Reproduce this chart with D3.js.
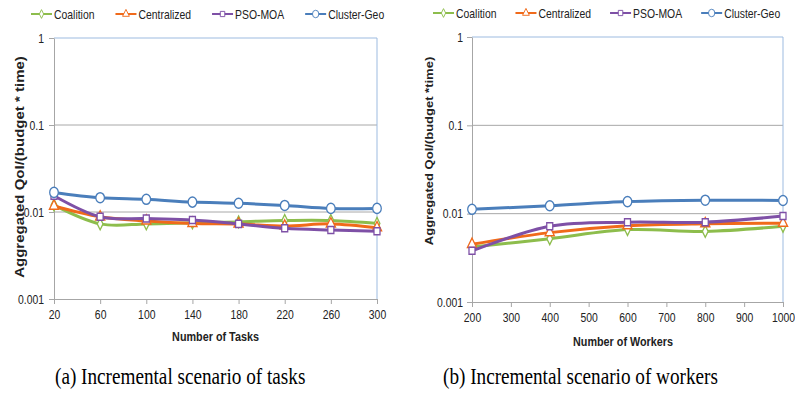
<!DOCTYPE html>
<html lang="en">
	<head>
		<meta charset="utf-8">
		<title>QoI vs tasks / workers</title>
		<script src="https://d3js.org/d3.v7.min.js"></script>
		<style type="text/css">
			body { margin: 0; background: #fff; }
			text { font-family: "Liberation Sans", Arial, sans-serif; }
		</style>
	</head>
	<body>
		<script type="text/javascript">

			//Width and height
			var w = 795;
			var h = 401;
			var sx = 0.8; // the figure is squeezed horizontally

			// series
			var seriesNames = ["Coalition", "Centralized", "PSO-MOA", "Cluster-Geo"];
			var seriesColors = ["#8dbd4c", "#f06a1a", "#7e50a6", "#4a7ebb"];
			var seriesSymbols = [d3.symbolDiamond, d3.symbolTriangle, d3.symbolSquare, d3.symbolCircle];
			var symbolSizes = [40, 50, 50, 80];

			// (a) tasks
			var tasks = [20, 60, 100, 140, 180, 220, 260, 300];
			var taskTicks = [20, 60, 100, 140, 180, 220, 260, 300];
			var tasksCoalition   = [0.0120, 0.0073, 0.0073, 0.0075, 0.0077, 0.0080, 0.0080, 0.0074];
			var tasksCentralized = [0.0117, 0.0088, 0.0079, 0.0074, 0.0073, 0.0069, 0.0073, 0.0066];
			var tasksPso         = [0.0154, 0.0088, 0.0084, 0.0081, 0.0073, 0.0065, 0.0062, 0.0060];
			var tasksCluster     = [0.0168, 0.0146, 0.0140, 0.0130, 0.0126, 0.0119, 0.0110, 0.0110];

			// (b) workers
			var workers = [200, 400, 600, 800, 1000];
			var workerTicks = [200, 300, 400, 500, 600, 700, 800, 900, 1000];
			var workersCoalition   = [0.0042, 0.0052, 0.0066, 0.0063, 0.0072];
			var workersCentralized = [0.0045, 0.0061, 0.0073, 0.0077, 0.0078];
			var workersPso         = [0.0038, 0.0072, 0.0080, 0.0080, 0.0094];
			var workersCluster     = [0.0112, 0.0123, 0.0137, 0.0142, 0.0141];

			var yTicks = [0.001, 0.01, 0.1, 1];

			//Create SVG element
			var svg = d3.select("body")
						.append("svg")
						.attr("width", w)
						.attr("height", h);

			function squeezeText(sel, x, y) {
				sel.attr("x", 0).attr("y", 0)
				   .attr("transform", "translate(" + x + "," + y + ") scale(" + sx + ",1)");
			}

			function drawPanel(p) {
				var g = svg.append("g");
				var x = d3.scaleLinear().domain([p.ticks[0], p.ticks[p.ticks.length - 1]]).range([p.left, p.right]);
				var y = d3.scaleLog().domain([0.001, 1]).range([p.bottom, p.top]);

				// gridlines
				g.selectAll("line.grid")
				 .data([0.01, 0.1])
				 .enter()
				 .append("line")
				 .attr("x1", p.left).attr("x2", p.right)
				 .attr("y1", function(d) { return y(d); })
				 .attr("y2", function(d) { return y(d); })
				 .attr("stroke", "#a8a8a8")
				 .attr("stroke-width", 1);

				// top and right border
				g.append("path")
				 .attr("d", "M" + p.left + "," + y(1) + "H" + p.right + "V" + p.bottom)
				 .attr("fill", "none")
				 .attr("stroke", "#9dbbe0")
				 .attr("stroke-width", 1);

				// axes
				var ya = g.append("g")
						  .attr("transform", "translate(" + p.left + ",0)")
						  .call(d3.axisLeft(y).tickValues(yTicks).tickFormat(d3.format("~g")).tickSize(5).tickSizeOuter(0));
				ya.selectAll("text")
				  .attr("x", -p.yPad / sx)
				  .attr("transform", "scale(" + sx + ",1)");

				var xa = g.append("g")
						  .attr("transform", "translate(0," + p.bottom + ")")
						  .call(d3.axisBottom(x).tickValues(p.ticks).tickFormat(d3.format("d")).tickSize(5).tickSizeOuter(0).tickPadding(6));
				xa.selectAll("text").attr("transform", "scale(" + sx + ",1)");

				g.selectAll(".domain, .tick line").attr("stroke", "#a6a6a6");
				g.selectAll(".tick text")
				 .attr("fill", "#222")
				 .style("font-size", "13px")
				 .style("font-family", "'Liberation Sans', Arial, sans-serif");

				// axis titles
				g.append("text")
				 .text(p.xTitle)
				 .attr("text-anchor", "middle")
				 .attr("font-weight", "bold")
				 .attr("font-size", 13.5)
				 .attr("fill", "#222")
				 .call(squeezeText, p.xTitleX, p.xTitleY);

				g.append("text")
				 .text(p.yTitle)
				 .attr("text-anchor", "middle")
				 .attr("dominant-baseline", "central")
				 .attr("font-weight", "bold")
				 .attr("font-size", p.yTitleSize)
				 .attr("fill", "#222")
				 .attr("transform", "translate(" + p.yTitleX + "," + p.yTitleY + ") scale(" + sx + ",1) rotate(-90)");

				// lines
				var line = d3.line()
							 .x(function(d) { return x(d[0]); })
							 .y(function(d) { return y(d[1]); })
							 .curve(d3.curveCatmullRom.alpha(0));

				p.series.forEach(function(vals, i) {
					var pts = p.xs.map(function(v, j) { return [v, vals[j]]; });
					g.append("path")
					 .datum(pts)
					 .attr("d", line)
					 .attr("fill", "none")
					 .attr("stroke", seriesColors[i])
					 .attr("stroke-width", 3)
					 .attr("stroke-linejoin", "round");
					g.selectAll("path.m" + i)
					 .data(pts)
					 .enter()
					 .append("path")
					 .attr("class", "m" + i)
					 .attr("d", d3.symbol().type(seriesSymbols[i]).size(symbolSizes[i]))
					 .attr("transform", function(d) { return "translate(" + x(d[0]) + "," + y(d[1]) + ") scale(0.85,1)"; })
					 .attr("fill", "#fff")
					 .attr("stroke", seriesColors[i])
					 .attr("stroke-width", 1.5);
				});

				// legend
				var lx = p.legendX;
				seriesNames.forEach(function(name, i) {
					var lg = g.append("g");
					lg.append("line")
					  .attr("x1", lx).attr("x2", lx + 21)
					  .attr("y1", p.legendY).attr("y2", p.legendY)
					  .attr("stroke", seriesColors[i])
					  .attr("stroke-width", 2);
					lg.append("path")
					  .attr("d", d3.symbol().type(seriesSymbols[i]).size(symbolSizes[i] * 0.55))
					  .attr("transform", "translate(" + (lx + 10.5) + "," + p.legendY + ") scale(0.85,1)")
					  .attr("fill", "#fff")
					  .attr("stroke", seriesColors[i])
					  .attr("stroke-width", 1);
					var t = lg.append("text")
							  .text(name)
							  .attr("font-size", 13)
							  .attr("fill", "#222")
							  .attr("dominant-baseline", "central")
							  .call(squeezeText, lx + 23, p.legendY);
					lx += 23 + t.node().getComputedTextLength() * sx + p.legendGap;
				});
			}

			drawPanel({
				left: 54, right: 377, top: 38, bottom: 299,
				xs: tasks, ticks: taskTicks,
				series: [tasksCoalition, tasksCentralized, tasksPso, tasksCluster],
				yPad: 10,
				xTitle: "Number of Tasks", xTitleX: 215.5, xTitleY: 341,
				yTitle: "Aggregated QoI/(budget * time)", yTitleSize: 15, yTitleX: 20, yTitleY: 167,
				legendX: 31, legendY: 14, legendGap: 21
			});

			drawPanel({
				left: 472, right: 783, top: 37, bottom: 302,
				xs: workers, ticks: workerTicks,
				series: [workersCoalition, workersCentralized, workersPso, workersCluster],
				yPad: 9,
				xTitle: "Number of Workers", xTitleX: 623, xTitleY: 346,
				yTitle: "Aggregated QoI/(budget *time)", yTitleSize: 13, yTitleX: 429, yTitleY: 151,
				legendX: 433, legendY: 13, legendGap: 19
			});

			// captions
			var captions = ["(a) Incremental scenario of tasks", "(b) Incremental scenario of workers"];
			var captionX = [55, 443];
			captions.forEach(function(c, i) {
				svg.append("text")
				   .text(c)
				   .attr("font-size", 24)
				   .attr("fill", "#000")
				   .style("font-family", "'Liberation Serif', 'Times New Roman', serif")
				   .call(squeezeText, captionX[i], 384);
			});
		</script>
	</body>
</html>
